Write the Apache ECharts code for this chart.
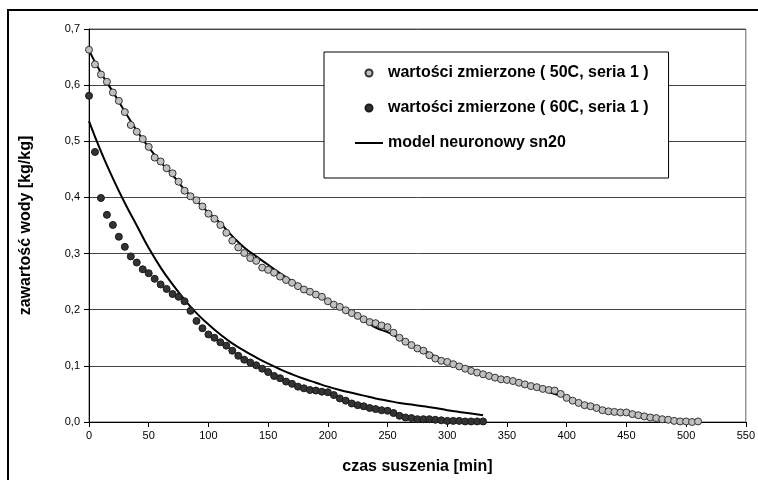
<!DOCTYPE html>
<html>
<head>
<meta charset="utf-8">
<script src="https://cdn.jsdelivr.net/npm/echarts@6/dist/echarts.min.js"></script>
<style>
  html, body { margin: 0; padding: 0; background: #fff; }
  #chart { width: 758px; height: 480px; }
</style>
</head>
<body>
<div id="chart"></div>
<script>
// czas [min] dla punktow pomiarowych (co 5 min)
const timeMeasured = [
  0, 5, 10, 15, 20, 25, 30, 35, 40, 45, 50, 55, 60, 65, 70, 75, 80, 85, 90, 95,
  100, 105, 110, 115, 120, 125, 130, 135, 140, 145, 150, 155, 160, 165, 170, 175, 180, 185, 190, 195,
  200, 205, 210, 215, 220, 225, 230, 235, 240, 245, 250, 255, 260, 265, 270, 275, 280, 285, 290, 295,
  300, 305, 310, 315, 320, 325, 330, 335, 340, 345, 350, 355, 360, 365, 370, 375, 380, 385, 390, 395,
  400, 405, 410, 415, 420, 425, 430, 435, 440, 445, 450, 455, 460, 465, 470, 475, 480, 485, 490, 495,
  500, 505, 510
];
// wartosci zmierzone 50C
const measured50 = [
  0.663, 0.637, 0.619, 0.606, 0.587, 0.572, 0.552, 0.529, 0.517, 0.504,
  0.490, 0.471, 0.464, 0.452, 0.443, 0.428, 0.412, 0.402, 0.395, 0.384,
  0.371, 0.362, 0.351, 0.337, 0.323, 0.311, 0.301, 0.292, 0.287, 0.275,
  0.271, 0.266, 0.259, 0.253, 0.248, 0.242, 0.236, 0.232, 0.227, 0.223,
  0.215, 0.209, 0.205, 0.199, 0.194, 0.189, 0.183, 0.178, 0.176, 0.172,
  0.169, 0.159, 0.150, 0.143, 0.137, 0.131, 0.127, 0.119, 0.113, 0.109,
  0.107, 0.103, 0.099, 0.095, 0.091, 0.088, 0.085, 0.082, 0.079, 0.076,
  0.075, 0.073, 0.070, 0.067, 0.064, 0.062, 0.059, 0.057, 0.056, 0.050,
  0.043, 0.038, 0.034, 0.030, 0.028, 0.025, 0.021, 0.019, 0.018, 0.017,
  0.017, 0.014, 0.012, 0.010, 0.008, 0.007, 0.005, 0.004, 0.002, 0.001,
  0.001, 0.000, 0.001
];
// wartosci zmierzone 60C (0..330 min)
const measured60 = [
  0.581, 0.481, 0.399, 0.369, 0.351, 0.330, 0.312, 0.295, 0.284, 0.272,
  0.265, 0.255, 0.245, 0.237, 0.228, 0.223, 0.215, 0.198, 0.180, 0.167,
  0.156, 0.150, 0.142, 0.136, 0.127, 0.118, 0.111, 0.106, 0.101, 0.095,
  0.089, 0.082, 0.078, 0.072, 0.068, 0.063, 0.060, 0.057, 0.056, 0.054,
  0.053, 0.048, 0.042, 0.038, 0.033, 0.030, 0.028, 0.025, 0.023, 0.021,
  0.020, 0.016, 0.011, 0.008, 0.007, 0.005, 0.005, 0.005, 0.004, 0.003,
  0.002, 0.002, 0.002, 0.001, 0.001, 0.001, 0.001
];
// model (co 10 min)
const timeModel = [
  0, 10, 20, 30, 40, 50, 60, 70, 80, 90, 100, 110, 120, 130, 140, 150, 160, 170, 180, 190,
  200, 210, 220, 230, 240, 250, 260, 270, 280, 290, 300, 310, 320, 330, 340, 350, 360, 370, 380, 390,
  400, 410, 420, 430, 440, 450, 460, 470, 480, 490, 500, 510
];
const model50 = [
  0.662, 0.622, 0.588, 0.553, 0.519, 0.489, 0.463, 0.440, 0.414, 0.394,
  0.373, 0.354, 0.331, 0.311, 0.295, 0.280, 0.265, 0.251, 0.238, 0.227,
  0.215, 0.204, 0.194, 0.182, 0.168, 0.160, 0.149, 0.138, 0.128, 0.117,
  0.108, 0.100, 0.093, 0.086, 0.080, 0.075, 0.069, 0.063, 0.057, 0.050,
  0.044, 0.036, 0.029, 0.023, 0.019, 0.016, 0.012, 0.009, 0.006, 0.003,
  0.001, 0.000
];
const model60 = [
  0.536, 0.482, 0.434, 0.390, 0.350, 0.310, 0.275, 0.245, 0.218, 0.194,
  0.174, 0.156, 0.140, 0.127, 0.115, 0.104, 0.094, 0.085, 0.077, 0.070,
  0.063, 0.057, 0.052, 0.047, 0.042, 0.038, 0.034, 0.031, 0.028, 0.025,
  0.021, 0.018, 0.015, 0.012
];

const NAME50 = 'wartości zmierzone ( 50C, seria 1 )';
const NAME60 = 'wartości zmierzone ( 60C, seria 1 )';
const NAMEMODEL = 'model neuronowy sn20';
const FONT = '"Liberation Sans", Arial, sans-serif';
// ikona legendy: sama kreska (bez punktu)
const LINE_ICON = 'path://M0,0L0.01,0L0.01,0.01Z M0,2.5L28,2.5L28,4.5L0,4.5Z M0,7L0.01,7L0.01,6.99Z';

const pairs = (xs, ys) => ys.map((v, i) => [xs[i], v]);

const myChart = echarts.init(document.getElementById('chart'), null, { renderer: 'canvas' });

const option = {
  animation: false,
  backgroundColor: '#fff',
  textStyle: { fontFamily: FONT, color: '#000' },
  graphic: [{
    type: 'rect',
    shape: { x: 8, y: 10, width: 800, height: 520 },
    style: { fill: 'none', stroke: '#000', lineWidth: 2 },
    silent: true,
    z: 0
  }],
  grid: {
    left: 89, right: 6, top: 29, bottom: 57,
    show: true, borderColor: '#666', borderWidth: 1
  },
  legend: {
    orient: 'vertical',
    left: 324, top: 52,
    backgroundColor: '#fff',
    borderColor: '#000', borderWidth: 1,
    padding: [11, 20, 25, 31],
    itemWidth: 28, itemHeight: 7, itemGap: 15,
    textStyle: { fontFamily: FONT, fontSize: 16, fontWeight: 'bold', color: '#000', lineHeight: 20 },
    data: [
      { name: NAME50, icon: 'circle' },
      { name: NAME60, icon: 'circle' },
      { name: NAMEMODEL, icon: LINE_ICON, itemStyle: { color: '#000', borderWidth: 0 } }
    ]
  },
  xAxis: {
    type: 'value',
    min: 0, max: 550, interval: 50,
    name: 'czas suszenia [min]',
    nameLocation: 'middle', nameGap: 37,
    nameTextStyle: { fontFamily: FONT, fontSize: 16, fontWeight: 'bold', color: '#000' },
    axisLine: { lineStyle: { color: '#000', width: 1 } },
    axisTick: { show: true, inside: false, length: 5, lineStyle: { color: '#000' } },
    axisLabel: { fontFamily: FONT, fontSize: 11, color: '#000', margin: 8 },
    splitLine: { show: false }
  },
  yAxis: {
    type: 'value',
    min: 0, max: 0.7, interval: 0.1,
    name: 'zawartość wody [kg/kg]',
    nameLocation: 'middle', nameGap: 55, nameRotate: 90,
    nameTextStyle: { fontFamily: FONT, fontSize: 16, fontWeight: 'bold', color: '#000' },
    axisLine: { show: true, lineStyle: { color: '#000', width: 1 } },
    axisTick: { show: true, inside: false, length: 5, lineStyle: { color: '#000' } },
    axisLabel: {
      fontFamily: FONT, fontSize: 11, color: '#000', margin: 9,
      formatter: (v) => v.toFixed(1).replace('.', ',')
    },
    splitLine: { show: true, lineStyle: { color: '#444', width: 1 } }
  },
  series: [
    {
      name: NAME50,
      type: 'scatter',
      data: pairs(timeMeasured, measured50),
      symbol: 'circle', symbolSize: 7,
      itemStyle: { color: '#c0c0c0', borderColor: '#333', borderWidth: 1, opacity: 1 },
      z: 3
    },
    {
      name: NAME60,
      type: 'scatter',
      data: pairs(timeMeasured.slice(0, measured60.length), measured60),
      symbol: 'circle', symbolSize: 7,
      itemStyle: { color: '#333', borderColor: '#1a1a1a', borderWidth: 1, opacity: 1 },
      z: 3
    },
    {
      name: NAMEMODEL,
      type: 'line',
      data: pairs(timeModel, model50),
      showSymbol: false, symbol: 'none', smooth: true,
      lineStyle: { color: '#000', width: 2 },
      itemStyle: { color: '#000' },
      z: 2
    },
    {
      name: NAMEMODEL,
      type: 'line',
      data: pairs(timeModel.slice(0, model60.length), model60),
      showSymbol: false, symbol: 'none', smooth: true,
      lineStyle: { color: '#000', width: 2 },
      itemStyle: { color: '#000' },
      z: 2
    }
  ]
};

myChart.setOption(option);
</script>
</body>
</html>
